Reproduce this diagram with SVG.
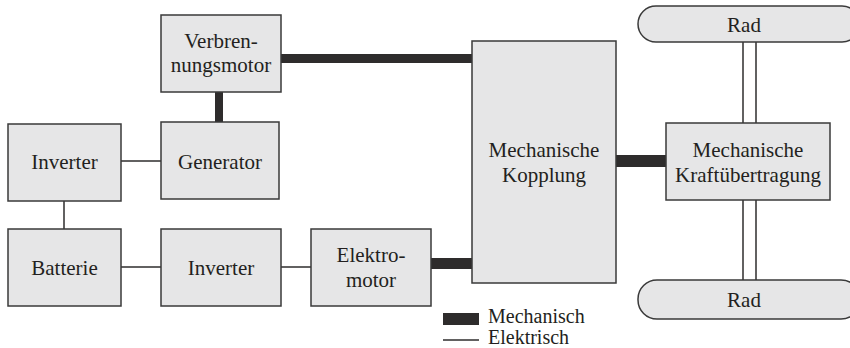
<svg xmlns="http://www.w3.org/2000/svg" width="850" height="348" viewBox="0 0 850 348">
  <style>
    .box { fill: #e6e6e7; stroke: #3a3a3a; stroke-width: 1.5; }
    .mech { fill: #2e2c2c; }
    .elec { stroke: #2e2c2c; stroke-width: 1.5; fill: none; }
    text { font-family: "Liberation Serif", "DejaVu Serif", serif; fill: #231f20; }
    .lbl { font-size: 21px; text-anchor: middle; }
    .leg { font-size: 20px; }
  </style>
  <rect width="850" height="348" fill="#ffffff"/>

  <!-- connectors: thick bars are mechanical, thin lines electrical -->
  <g id="connectors">
    <rect class="mech" x="281" y="54" width="191" height="9"/>
    <rect class="mech" x="215" y="92" width="8" height="30"/>
    <rect class="mech" x="431" y="258" width="41" height="11"/>
    <rect class="mech" x="616" y="155" width="50" height="12"/>
    <line class="elec" x1="121" y1="161" x2="161" y2="161"/>
    <line class="elec" x1="64" y1="201" x2="64" y2="229"/>
    <line class="elec" x1="121" y1="267" x2="161" y2="267"/>
    <line class="elec" x1="281" y1="267" x2="311" y2="267"/>
    <line class="elec" x1="743" y1="42" x2="743" y2="123"/>
    <line class="elec" x1="756" y1="42" x2="756" y2="123"/>
    <line class="elec" x1="743" y1="200" x2="743" y2="280"/>
    <line class="elec" x1="756" y1="200" x2="756" y2="280"/>
  </g>

  <g id="verbrennungsmotor">
    <rect class="box" x="161" y="15" width="120" height="77"/>
    <text class="lbl" x="221" y="48">Verbren-</text>
    <text class="lbl" x="221" y="72">nungsmotor</text>
  </g>

  <g id="generator">
    <rect class="box" x="161" y="122" width="118" height="77"/>
    <text class="lbl" x="220" y="169">Generator</text>
  </g>

  <g id="inverter-gen">
    <rect class="box" x="8" y="124" width="113" height="77"/>
    <text class="lbl" x="64.5" y="169">Inverter</text>
  </g>

  <g id="batterie">
    <rect class="box" x="8" y="229" width="113" height="77"/>
    <text class="lbl" x="64.5" y="275">Batterie</text>
  </g>

  <g id="inverter-motor">
    <rect class="box" x="161" y="229" width="120" height="77"/>
    <text class="lbl" x="221" y="275">Inverter</text>
  </g>

  <g id="elektromotor">
    <rect class="box" x="311" y="229" width="120" height="77"/>
    <text class="lbl" x="371" y="262">Elektro-</text>
    <text class="lbl" x="371" y="287">motor</text>
  </g>

  <g id="kopplung">
    <rect class="box" x="472" y="41" width="144" height="242"/>
    <text class="lbl" x="544" y="157">Mechanische</text>
    <text class="lbl" x="544" y="182">Kopplung</text>
  </g>

  <g id="kraftuebertragung">
    <rect class="box" x="666" y="123" width="164" height="77"/>
    <text class="lbl" x="748" y="157">Mechanische</text>
    <text class="lbl" x="748" y="182">Kraftübertragung</text>
  </g>

  <g id="rad-oben">
    <rect class="box" x="638" y="6" width="222" height="36" rx="18" ry="18"/>
    <text class="lbl" x="744" y="32">Rad</text>
  </g>

  <g id="rad-unten">
    <rect class="box" x="638" y="280" width="222" height="39" rx="19" ry="19"/>
    <text class="lbl" x="744" y="307">Rad</text>
  </g>

  <!-- legend -->
  <g id="legend">
    <rect class="mech" x="443" y="313" width="36" height="12"/>
    <text class="leg" x="488" y="323">Mechanisch</text>
    <line class="elec" x1="443" y1="340" x2="479" y2="340"/>
    <text class="leg" x="488" y="344">Elektrisch</text>
  </g>
</svg>
